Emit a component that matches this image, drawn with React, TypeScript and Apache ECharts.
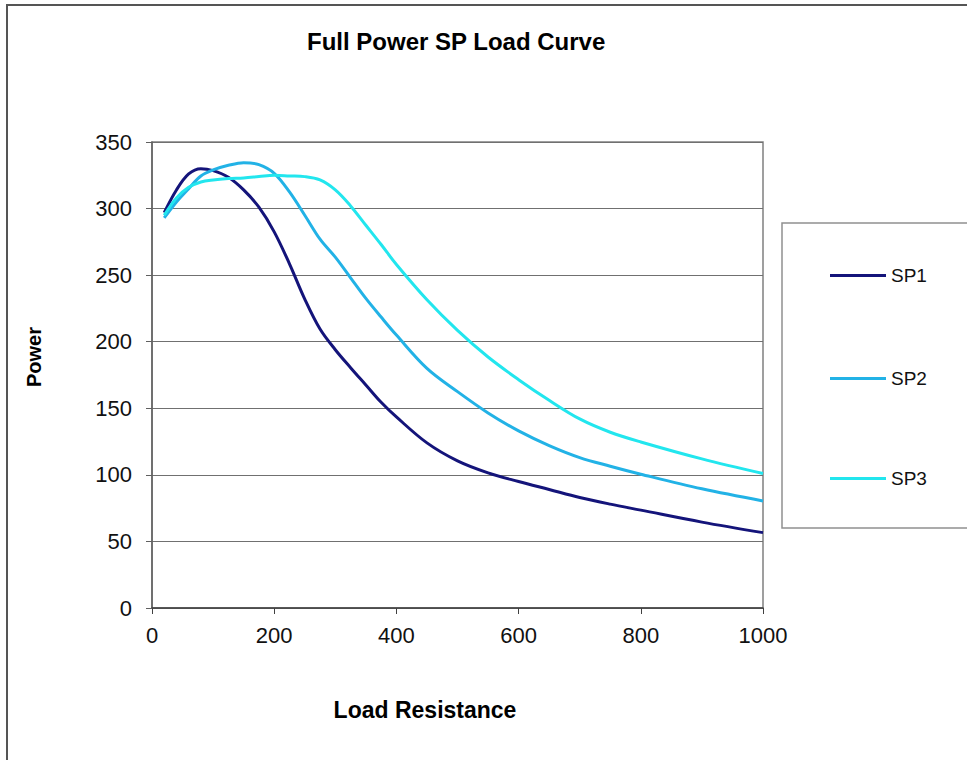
import React, { useEffect, useRef } from "react";
import * as echarts from "echarts";

const chartTitle = "Full Power SP Load Curve";
const xAxisTitle = "Load Resistance";
const yAxisTitle = "Power";
const seriesNames = ["SP1", "SP2", "SP3"];
const seriesColors = ["#14147a", "#22b2e6", "#22e6ee"];

const loadResistance = [20, 40, 60, 80, 100, 125, 150, 175, 200, 225, 250, 275, 300, 325, 350, 375, 400, 450, 500, 550, 600, 650, 700, 750, 800, 900, 1000];
const sp1 = [297, 314, 326, 330, 328.5, 323.5, 314, 301, 282.5, 258.5, 232, 209.5, 194, 180.5, 167.5, 154.5, 143.5, 124, 110.5, 101.5, 95, 89, 83, 78, 73.5, 64.5, 56.6];
const sp2 = [293, 305, 315, 324.5, 329, 332.5, 334.5, 333, 326.5, 312.5, 295, 277, 263.5, 248, 232.5, 218.5, 205, 180, 162.5, 146.5, 133, 122, 113, 106.5, 100.5, 89.5, 80.4];
const sp3 = [295, 308, 316, 320, 321.5, 322.5, 323, 324, 325, 324.5, 324, 321.5, 314, 302, 287.5, 273, 258, 231.5, 208.5, 188.5, 171.5, 156, 142, 132, 124.7, 112, 101];

const xTicks = { min: 0, max: 1000, interval: 200 };
const yTicks = { min: 0, max: 350, interval: 50 };

const FONT = "Liberation Sans, Arial, sans-serif";

export default function App() {
  const ref = useRef<HTMLDivElement>(null);
  useEffect(() => {
    if (!ref.current) return;
    const chart = echarts.init(ref.current, null, { renderer: "svg" });
    const values = [sp1, sp2, sp3];
    const legendTops = [266, 369, 469];
    chart.setOption({
      animation: false,
      backgroundColor: "#ffffff",
      title: {
        text: chartTitle,
        left: 302,
        top: 24,
        textStyle: { fontFamily: FONT, fontSize: 24, fontWeight: "bold", color: "#000" },
      },
      grid: {
        left: 152,
        top: 142,
        width: 611,
        height: 466,
        show: true,
        borderColor: "#808080",
        borderWidth: 1.5,
        backgroundColor: "transparent",
      },
      legend: seriesNames.map((n, i) => ({
        data: [n],
        left: 830,
        top: legendTops[i],
        padding: 0,
        orient: "vertical",
        icon: "rect",
        itemWidth: 56,
        itemHeight: 3,
        textStyle: { fontFamily: FONT, fontSize: 19, color: "#111" },
        selectedMode: false,
      })),
      xAxis: {
        type: "value",
        min: xTicks.min,
        max: xTicks.max,
        interval: xTicks.interval,
        axisLine: { show: true, lineStyle: { color: "#404040", width: 1.5 } },
        axisTick: { show: true, length: 6, lineStyle: { color: "#404040" } },
        axisLabel: {
          margin: 16,
          fontFamily: FONT,
          fontSize: 22,
          color: "#111",
          formatter: (v: number) => String(v),
        },
        splitLine: { show: false },
      },
      yAxis: {
        type: "value",
        min: yTicks.min,
        max: yTicks.max,
        interval: yTicks.interval,
        axisLine: { show: true, lineStyle: { color: "#606060", width: 1.5 } },
        axisTick: { show: true, length: 6, lineStyle: { color: "#606060" } },
        axisLabel: { margin: 20, fontFamily: FONT, fontSize: 22, color: "#111" },
        splitLine: { show: true, lineStyle: { color: "#707070", width: 1.2 } },
      },
      graphic: [
        {
          type: "rect",
          shape: { x: 7, y: 5, width: 1100, height: 900 },
          style: { fill: "none", stroke: "#555", lineWidth: 2 },
          silent: true,
        },
        {
          type: "rect",
          shape: { x: 782, y: 223, width: 400, height: 305 },
          style: { fill: "none", stroke: "#909090", lineWidth: 1.5 },
          silent: true,
        },
        {
          type: "text",
          x: 34,
          y: 357,
          rotation: Math.PI / 2,
          style: {
            text: yAxisTitle,
            align: "center",
            verticalAlign: "middle",
            font: `bold 20px ${FONT}`,
            fill: "#000",
          },
        },
        {
          type: "text",
          x: 425,
          y: 710,
          style: {
            text: xAxisTitle,
            align: "center",
            verticalAlign: "middle",
            font: `bold 23px ${FONT}`,
            fill: "#000",
          },
        },
      ],
      series: seriesNames.map((n, i) => ({
        name: n,
        type: "line",
        smooth: 0.35,
        symbol: "none",
        data: loadResistance.map((x, j) => [x, values[i][j]]),
        lineStyle: { color: seriesColors[i], width: 3 },
        itemStyle: { color: seriesColors[i] },
      })),
    });
    return () => chart.dispose();
  }, []);
  return (
    <div
      ref={ref}
      style={{ position: "fixed", left: 0, top: 0, width: 967, height: 760, background: "#fff" }}
    />
  );
}
